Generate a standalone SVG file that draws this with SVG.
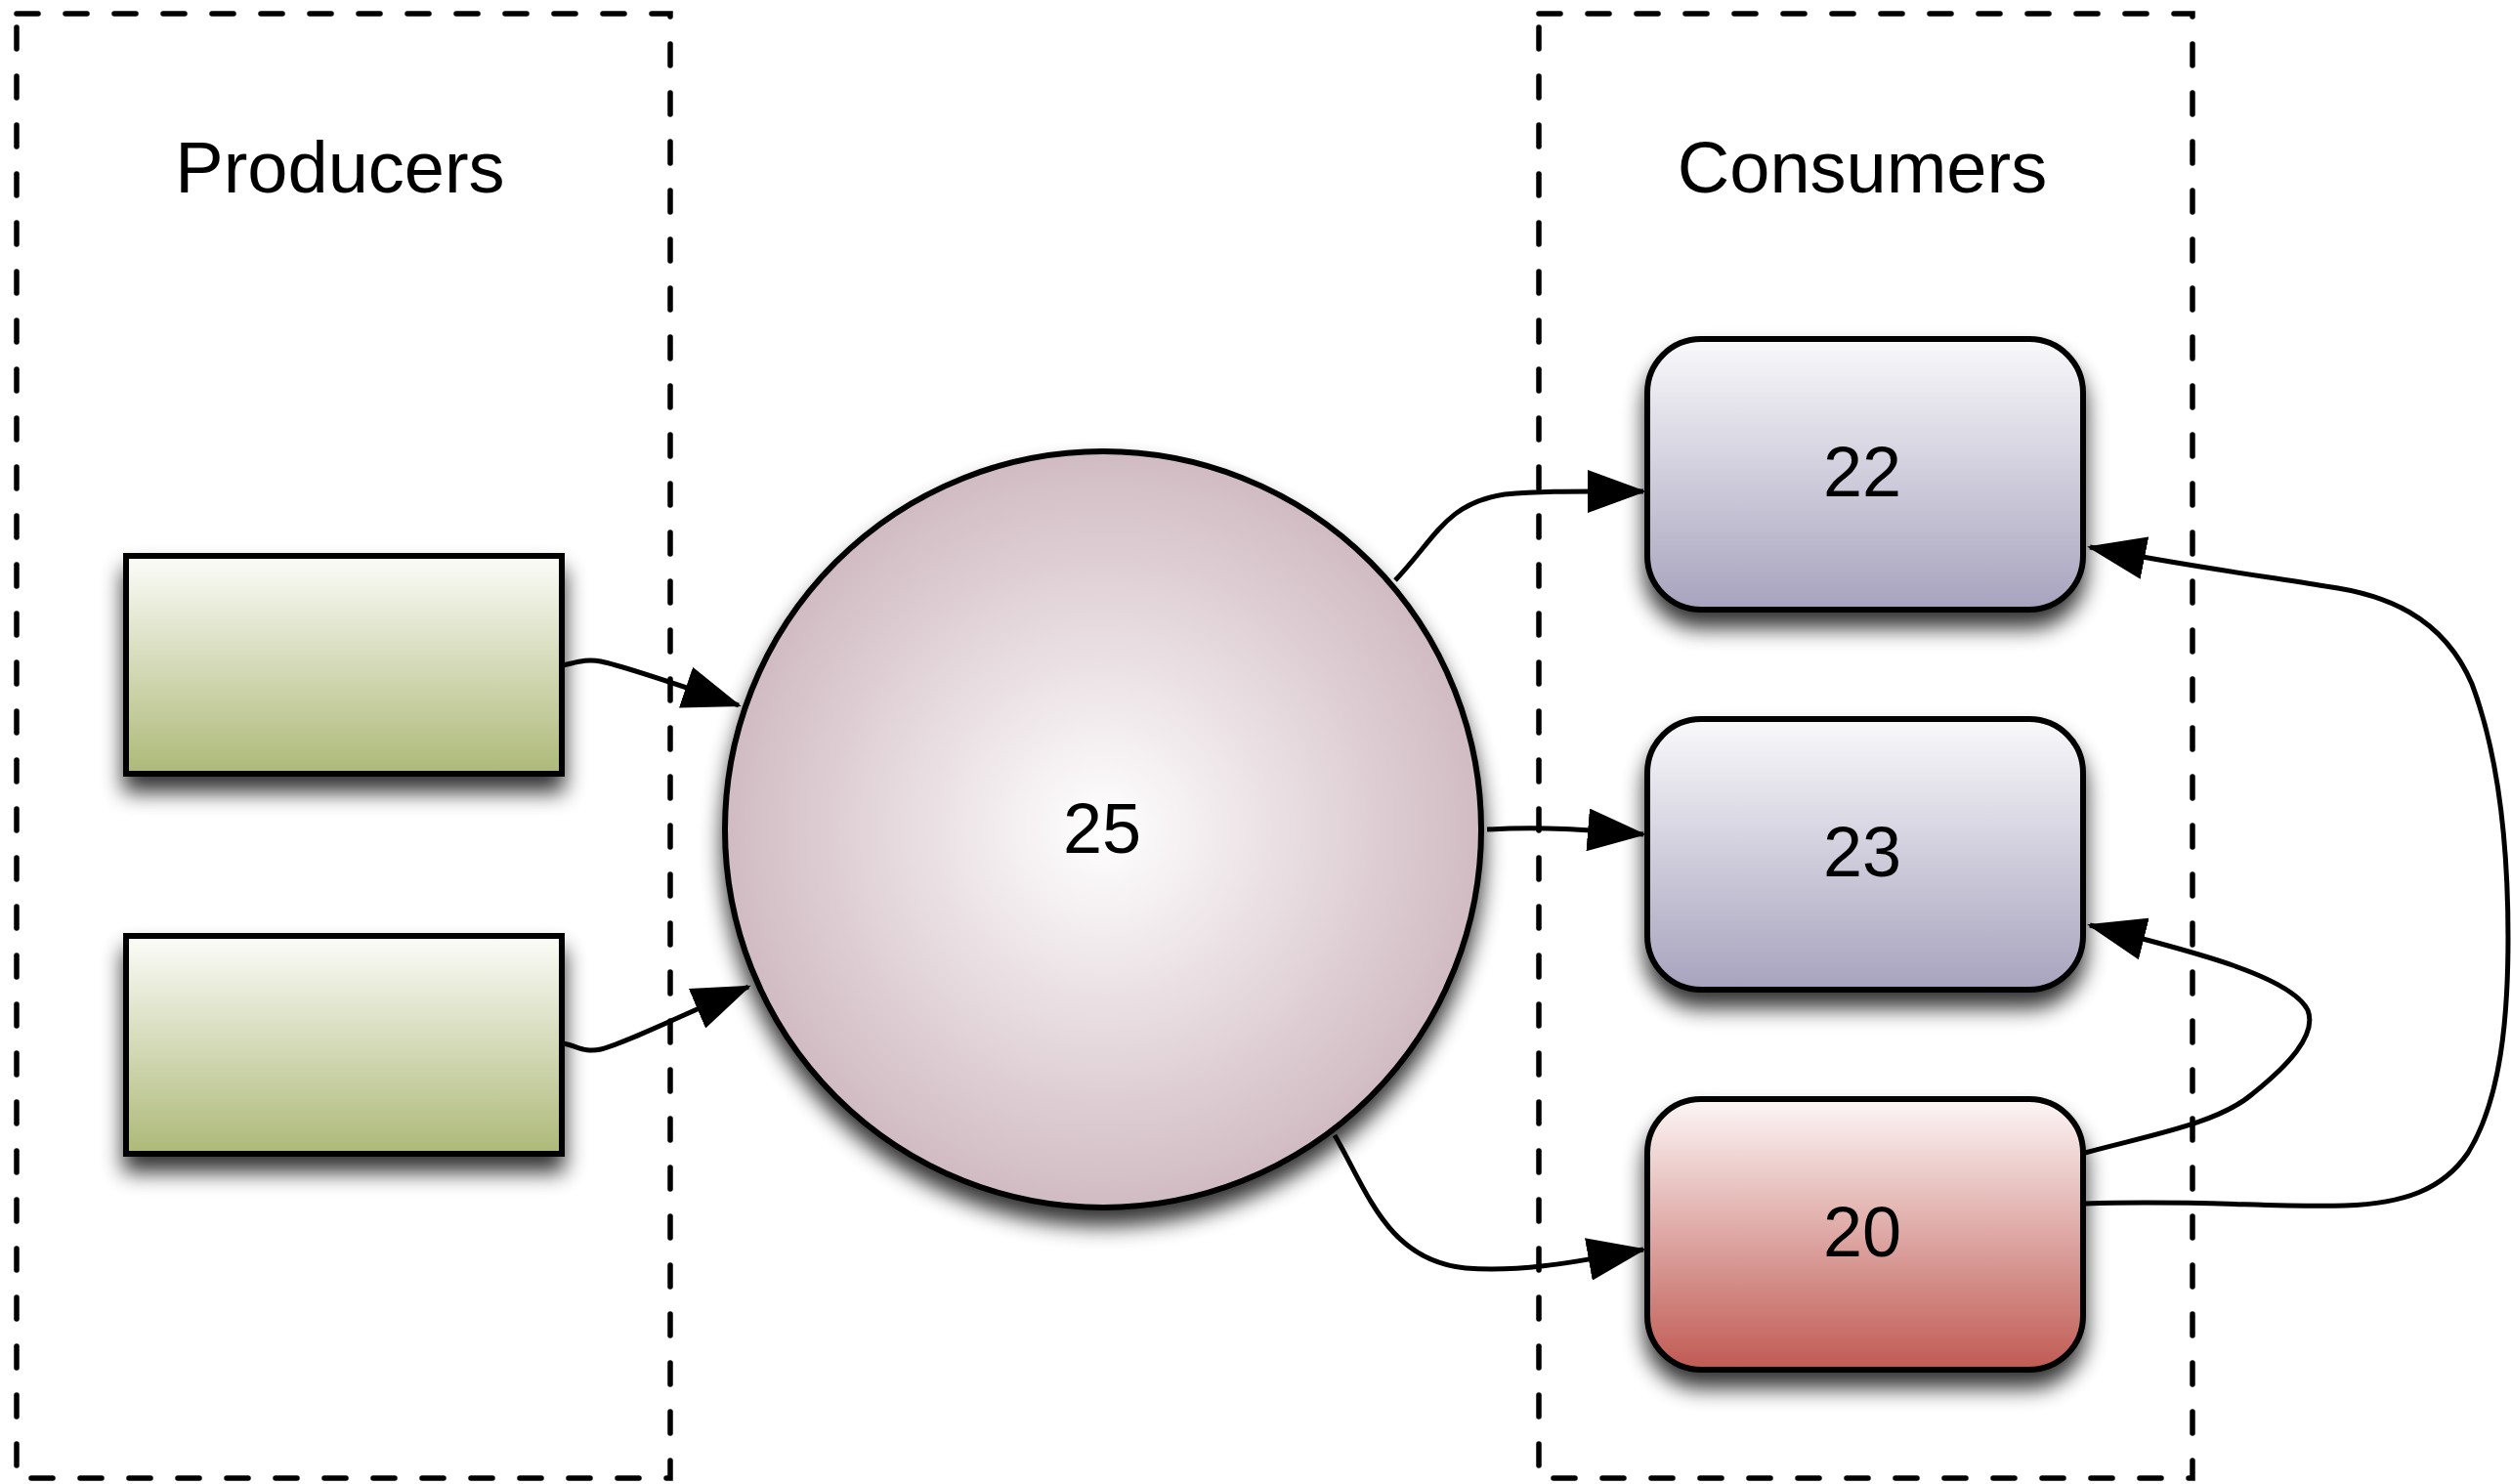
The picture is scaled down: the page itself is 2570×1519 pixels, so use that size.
<svg xmlns="http://www.w3.org/2000/svg" width="2570" height="1519" viewBox="0 0 2570 1519">
<style>
.lbl{font-family:"Liberation Sans",Arial,sans-serif;font-size:74px;fill:#000;text-anchor:middle}
.num{font-family:"Liberation Sans",Arial,sans-serif;font-size:72px;fill:#000;text-anchor:middle}
.group{fill:none;stroke:#000;stroke-width:5.5;stroke-dasharray:22 28;stroke-linecap:round}
.node{stroke:#000;stroke-width:6}
.conn{fill:none;stroke:#000;stroke-width:5;marker-end:url(#arr)}
</style>
<defs>
<linearGradient id="gGreen" x1="0" y1="0" x2="0" y2="1">
<stop offset="0" stop-color="#fcfcf9"/>
<stop offset="1" stop-color="#adb978"/>
</linearGradient>
<linearGradient id="gBlue" x1="0" y1="0" x2="0" y2="1">
<stop offset="0" stop-color="#f9f9fb"/>
<stop offset="1" stop-color="#a7a3be"/>
</linearGradient>
<linearGradient id="gRed" x1="0" y1="0" x2="0" y2="1">
<stop offset="0" stop-color="#fcf6f6"/>
<stop offset="1" stop-color="#c05a53"/>
</linearGradient>
<radialGradient id="gCirc" cx="0.5" cy="0.5" r="0.5">
<stop offset="0" stop-color="#ffffff"/>
<stop offset="1" stop-color="#d1bbc3"/>
</radialGradient>
<filter id="shadow" x="-20%" y="-20%" width="140%" height="150%">
<feGaussianBlur in="SourceAlpha" stdDeviation="11"/>
<feOffset dx="0" dy="16" result="b"/>
<feComponentTransfer><feFuncA type="linear" slope="0.8"/></feComponentTransfer>
<feMerge><feMergeNode/><feMergeNode in="SourceGraphic"/></feMerge>
</filter>
<marker id="arr" markerUnits="userSpaceOnUse" markerWidth="62" markerHeight="44" refX="57" refY="22" orient="auto">
<path d="M0,0 L60,22 L0,44 Z" fill="#000"/>
</marker>
</defs>
<rect width="2570" height="1519" fill="#fff"/>
<g id="producers-group">
<rect class="group" x="17" y="14" width="669" height="1499"/>
<text class="lbl" x="348" y="197">Producers</text>
</g>
<g id="consumers-group">
<rect class="group" x="1575" y="14" width="669" height="1499"/>
<text class="lbl" x="1906" y="197">Consumers</text>
</g>
<g id="producer1"><rect class="node" x="129" y="569" width="446" height="223" fill="url(#gGreen)" filter="url(#shadow)"/></g>
<g id="producer2"><rect class="node" x="129" y="958" width="446" height="223" fill="url(#gGreen)" filter="url(#shadow)"/></g>
<g id="node25">
<circle class="node" cx="1129" cy="849" r="387" fill="url(#gCirc)" filter="url(#shadow)"/>
<text class="num" x="1128" y="873">25</text>
</g>
<g id="node22">
<rect class="node" x="1686" y="347" width="446" height="277" rx="55" fill="url(#gBlue)" filter="url(#shadow)"/>
<text class="num" x="1906" y="508">22</text>
</g>
<g id="node23">
<rect class="node" x="1686" y="736" width="446" height="277" rx="55" fill="url(#gBlue)" filter="url(#shadow)"/>
<text class="num" x="1906" y="897">23</text>
</g>
<g id="node20">
<rect class="node" x="1686" y="1125" width="446" height="277" rx="55" fill="url(#gRed)" filter="url(#shadow)"/>
<text class="num" x="1906" y="1286">20</text>
</g>
<g id="connectors">
<path class="conn" d="M576,681 C590,678 600,674 615,677 C640,682 700,703 756,722"/>
<path class="conn" d="M576,1068 C590,1070 598,1078 615,1074 C640,1068 700,1038 766,1010"/>
<path class="conn" d="M1428,594 C1470,550 1480,515 1540,506 C1580,502 1620,503 1682,503"/>
<path class="conn" d="M1522,849 C1580,846 1620,849 1682,854"/>
<path class="conn" d="M1366,1162 C1400,1220 1420,1290 1500,1298 C1560,1303 1620,1290 1682,1279"/>
<path class="conn" d="M2134,1180 C2200,1162 2270,1150 2305,1120 C2340,1092 2372,1060 2362,1034 C2345,1000 2250,975 2139,947"/>
<path class="conn" d="M2134,1232 C2250,1228 2320,1236 2400,1234 C2460,1232 2500,1218 2526,1180 C2560,1125 2567,1040 2567,960 C2567,880 2560,780 2530,700 C2500,630 2440,608 2380,600 C2320,590 2240,580 2139,560"/>
</g>
</svg>
